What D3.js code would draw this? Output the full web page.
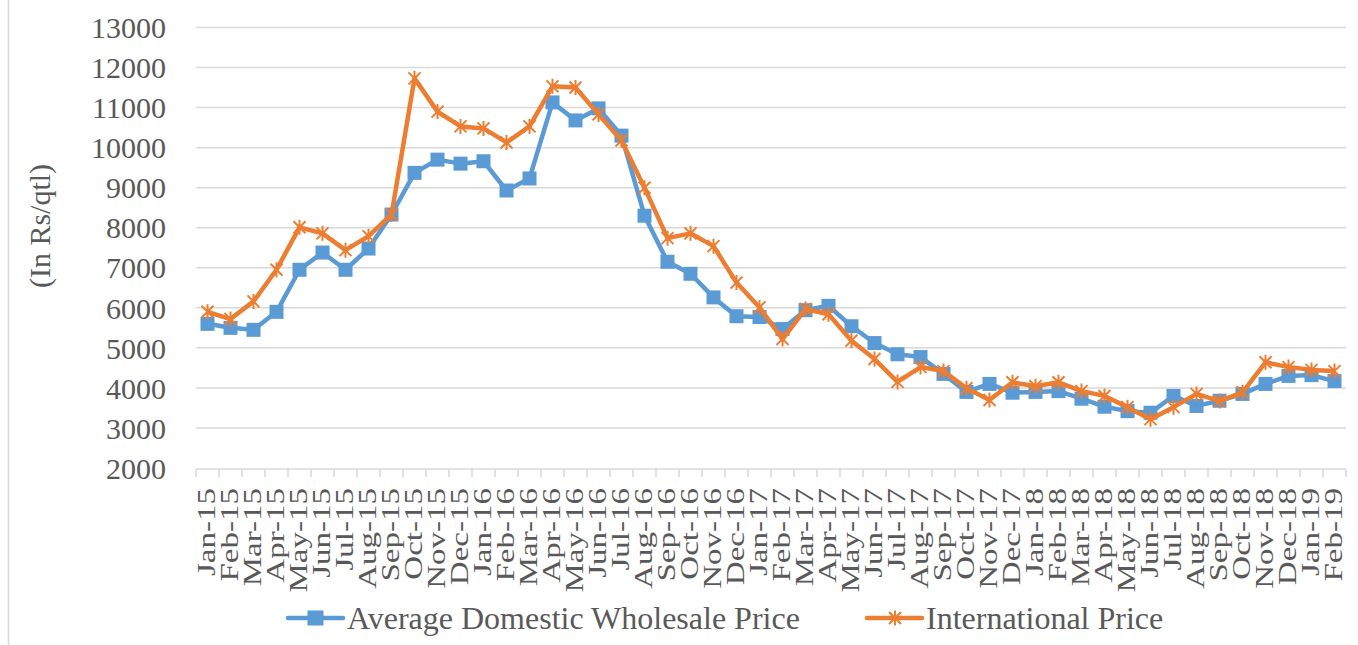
<!DOCTYPE html>
<html>
<head>
<meta charset="utf-8">
<script src="https://cdn.jsdelivr.net/npm/d3@7"></script>
<style>
  body { margin: 0; background: #fff; }
  text { font-family: "Liberation Serif", "Times New Roman", serif; fill: #595959; }
</style>
</head>
<body>
<div id="chart"></div>
<script>
// months on the category axis
var months = ["Jan-15","Feb-15","Mar-15","Apr-15","May-15","Jun-15","Jul-15","Aug-15","Sep-15","Oct-15","Nov-15","Dec-15",
  "Jan-16","Feb-16","Mar-16","Apr-16","May-16","Jun-16","Jul-16","Aug-16","Sep-16","Oct-16","Nov-16","Dec-16",
  "Jan-17","Feb-17","Mar-17","Apr-17","May-17","Jun-17","Jul-17","Aug-17","Sep-17","Oct-17","Nov-17","Dec-17",
  "Jan-18","Feb-18","Mar-18","Apr-18","May-18","Jun-18","Jul-18","Aug-18","Sep-18","Oct-18","Nov-18","Dec-18",
  "Jan-19","Feb-19"];

// Average Domestic Wholesale Price (Rs/qtl)
var domestic = [5600,5500,5450,5900,6950,7380,6950,7480,8330,9370,9700,9600,
  9660,8930,9230,11130,10680,10980,10300,8300,7150,6850,6260,5790,
  5770,5470,5940,6050,5540,5120,4840,4770,4350,3900,4100,3880,
  3900,3920,3730,3530,3420,3380,3800,3550,3680,3850,4100,4300,
  4320,4170];

// International Price (Rs/qtl)
var international = [5900,5720,6160,6950,8010,7860,7440,7790,8330,11730,10900,10530,
  10480,10130,10530,11530,11500,10830,10180,9000,7740,7860,7540,6630,
  6010,5220,5970,5840,5180,4720,4150,4520,4420,3990,3700,4140,
  4040,4140,3920,3800,3520,3220,3520,3850,3670,3890,4640,4520,
  4450,4420];

var yTicks = [2000,3000,4000,5000,6000,7000,8000,9000,10000,11000,12000,13000];
var seriesNames = ["Average Domestic Wholesale Price", "International Price"];
var seriesColors = ["#5B9BD5", "#ED7D31"];

var width = 1358, height = 645;
var svg = d3.select("#chart").append("svg")
  .attr("width", width)
  .attr("height", height);

// chart area border (only the left edge shows)
svg.append("line")
  .attr("x1", 8.5).attr("x2", 8.5)
  .attr("y1", 0).attr("y2", height)
  .attr("stroke", "#d9d9d9").attr("stroke-width", 1.5);

var plotLeft = 196, plotRight = 1346, plotTop = 27.5, plotBottom = 468;

var x = d3.scaleBand()
  .domain(months)
  .range([plotLeft, plotRight]);

var y = d3.scaleLinear()
  .domain([2000, 13000])
  .range([plotBottom, plotTop]);

// gridlines
svg.append("g")
  .selectAll("line")
  .data(yTicks.slice(1))
  .enter()
  .append("line")
  .attr("x1", plotLeft).attr("x2", plotRight)
  .attr("y1", function(d) { return y(d); })
  .attr("y2", function(d) { return y(d); })
  .attr("stroke", "#d9d9d9")
  .attr("stroke-width", 1.5);

// y axis labels
var yAxis = d3.axisLeft(y)
  .tickValues(yTicks)
  .tickSize(0)
  .tickPadding(30)
  .tickFormat(d3.format("d"));
var gy = svg.append("g")
  .attr("transform", "translate(" + plotLeft + ",0)")
  .call(yAxis);
gy.select(".domain").remove();
gy.selectAll("text")
  .style("font-size", "30px")
  .attr("dy", "0.34em");

// x axis: gray line with ticks between categories
svg.append("line")
  .attr("x1", plotLeft).attr("x2", plotRight)
  .attr("y1", plotBottom + 1).attr("y2", plotBottom + 1)
  .attr("stroke", "#d9d9d9").attr("stroke-width", 1.5);

var boundaries = months.map(function(m) { return x(m); }).concat([plotRight]);
svg.append("g")
  .selectAll("line")
  .data(boundaries)
  .enter()
  .append("line")
  .attr("x1", function(d) { return d; })
  .attr("x2", function(d) { return d; })
  .attr("y1", plotBottom + 1)
  .attr("y2", plotBottom + 9)
  .attr("stroke", "#d9d9d9").attr("stroke-width", 1.5);

// category labels: rotated, stretched along their length like the original
svg.append("g")
  .selectAll("text")
  .data(months)
  .enter()
  .append("text")
  .attr("transform", function(d) {
    return "translate(" + (x(d) + x.bandwidth() / 2 - 1) + "," + (plotBottom + 20) + ") rotate(-90) scale(1.27,1)";
  })
  .attr("text-anchor", "end")
  .attr("dy", "0.34em")
  .style("font-size", "26px")
  .text(function(d) { return d; });

// y axis title
svg.append("text")
  .attr("transform", "translate(40,226) rotate(-90)")
  .attr("text-anchor", "middle")
  .attr("dy", "0.34em")
  .style("font-size", "30px")
  .text("(In Rs/qtl)");

var line = d3.line()
  .x(function(d, i) { return x(months[i]) + x.bandwidth() / 2; })
  .y(function(d) { return y(d); });

var starPath = "M-6,-6L6,6M-6,6L6,-6M0,-7.5L0,7.5";

// series 1: domestic (squares)
svg.append("path")
  .datum(domestic)
  .attr("d", line)
  .attr("fill", "none")
  .attr("stroke", seriesColors[0])
  .attr("stroke-width", 4.5)
  .attr("stroke-linejoin", "round");

svg.append("g")
  .selectAll("rect")
  .data(domestic)
  .enter()
  .append("rect")
  .attr("x", function(d, i) { return x(months[i]) + x.bandwidth() / 2 - 7; })
  .attr("y", function(d) { return y(d) - 7; })
  .attr("width", 14)
  .attr("height", 14)
  .attr("fill", seriesColors[0]);

// series 2: international (stars)
svg.append("path")
  .datum(international)
  .attr("d", line)
  .attr("fill", "none")
  .attr("stroke", seriesColors[1])
  .attr("stroke-width", 4.5)
  .attr("stroke-linejoin", "round");

svg.append("g")
  .selectAll("path")
  .data(international)
  .enter()
  .append("path")
  .attr("transform", function(d, i) {
    return "translate(" + (x(months[i]) + x.bandwidth() / 2) + "," + y(d) + ")";
  })
  .attr("d", starPath)
  .attr("fill", "none")
  .attr("stroke", seriesColors[1])
  .attr("stroke-width", 2);

// legend
var legendY = 618;
var legendItems = [
  { name: seriesNames[0], color: seriesColors[0], x0: 288, type: "square" },
  { name: seriesNames[1], color: seriesColors[1], x0: 867, type: "star" }
];
legendItems.forEach(function(item) {
  var g = svg.append("g");
  g.append("line")
    .attr("x1", item.x0).attr("x2", item.x0 + 55)
    .attr("y1", legendY).attr("y2", legendY)
    .attr("stroke", item.color).attr("stroke-width", 4.5)
    .attr("stroke-linecap", "round");
  if (item.type === "square") {
    g.append("rect")
      .attr("x", item.x0 + 27.5 - 8).attr("y", legendY - 7.5)
      .attr("width", 16).attr("height", 15)
      .attr("fill", item.color);
  } else {
    g.append("path")
      .attr("transform", "translate(" + (item.x0 + 28) + "," + legendY + ")")
      .attr("d", starPath)
      .attr("fill", "none")
      .attr("stroke", item.color)
      .attr("stroke-width", 2);
  }
  g.append("text")
    .attr("x", item.x0 + 59)
    .attr("y", legendY)
    .attr("dy", "0.34em")
    .style("font-size", "32px")
    .text(item.name);
});
</script>
</body>
</html>
